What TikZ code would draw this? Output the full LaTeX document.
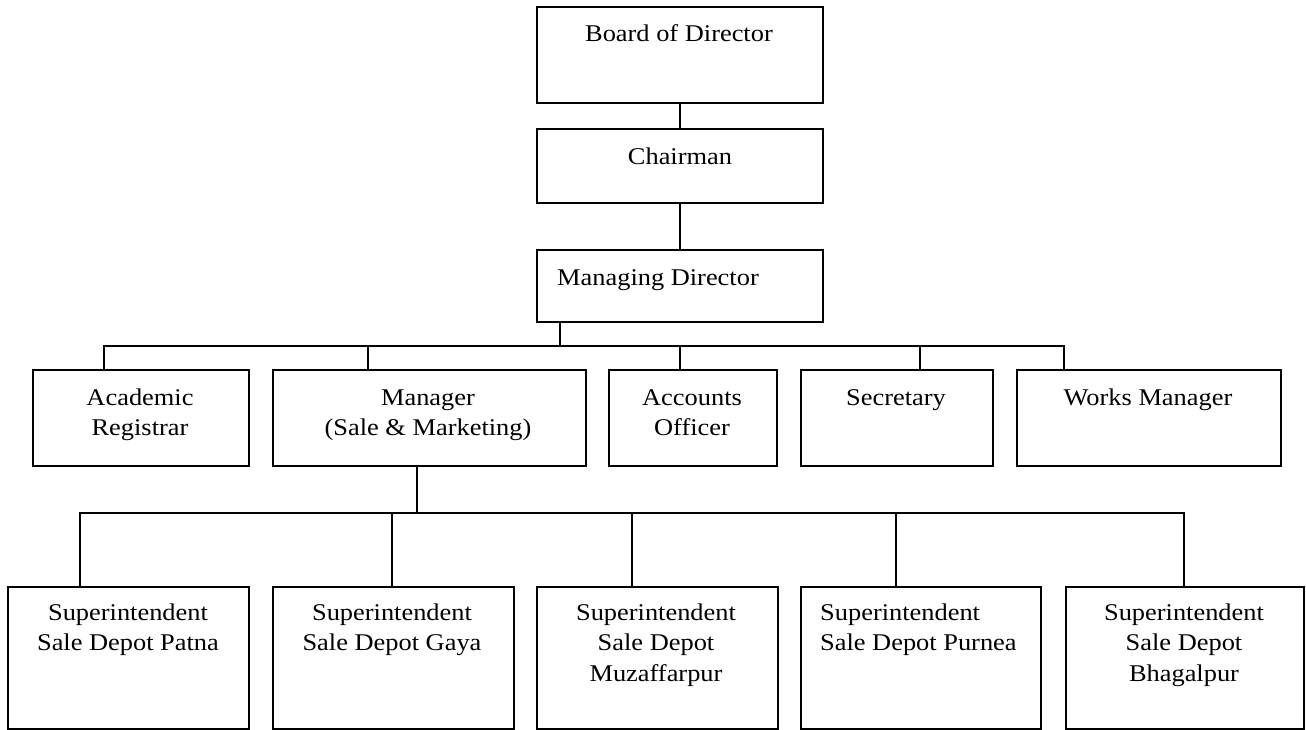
\documentclass[tikz,border=0pt]{standalone}
\usepackage{fontspec}
\setmainfont{Liberation Serif}[FakeStretch=1.1]

\tikzset{
    box/.style={draw, line width=1.6pt, inner sep=0pt, anchor=north west},
    txt/.style={align=center, inner sep=0pt, anchor=base, font=\fontsize{24}{30.5}\selectfont},
    link/.style={line width=1.6pt, line join=miter}
}

\begin{document}
\begin{tikzpicture}[x=1pt, y=-1pt]
    \useasboundingbox (0,0) rectangle (1306,730);
    % top of the chart
    \node[box, minimum width=286pt, minimum height=96pt] (bod) at (536,6) {};
    \node[box, minimum width=286pt, minimum height=74pt] (chm) at (536,128) {};
    \node[box, minimum width=286pt, minimum height=72pt] (mgd) at (536,249) {};
    \node[txt] (bodt) at (679,42) {Board of Director};
    \node[txt] (chmt) at (680,165) {Chairman};
    \node[txt, anchor=base west] (mgdt) at (557,285) {Managing Director};
    % second row (text placed by its last line)
    \node[box, minimum width=216pt, minimum height=96pt] (acr) at (32,369) {};
    \node[box, minimum width=313pt, minimum height=96pt] (mgr) at (272,369) {};
    \node[box, minimum width=168pt, minimum height=96pt] (aco) at (608,369) {};
    \node[box, minimum width=192pt, minimum height=96pt] (sec) at (800,369) {};
    \node[box, minimum width=264pt, minimum height=96pt] (wkm) at (1016,369) {};
    \node[txt] (acrt) at (140,435.5) {Academic\\Registrar};
    \node[txt] (mgrt) at (428,435.5) {Manager\\(Sale \& Marketing)};
    \node[txt] (acot) at (692,435.5) {Accounts\\Officer};
    \node[txt] (sect) at (896,405) {Secretary};
    \node[txt] (wkmt) at (1148,405) {Works Manager};
    % sale depots
    \node[box, minimum width=241pt, minimum height=142pt] (sdp) at (7,586) {};
    \node[box, minimum width=241pt, minimum height=142pt] (sdg) at (272,586) {};
    \node[box, minimum width=241pt, minimum height=142pt] (sdm) at (536,586) {};
    \node[box, minimum width=240pt, minimum height=142pt] (sdu) at (800,586) {};
    \node[box, minimum width=238pt, minimum height=142pt] (sdb) at (1065,586) {};
    \node[txt] (sdpt) at (128,650.5) {Superintendent\\Sale Depot Patna};
    \node[txt] (sdgt) at (392,650.5) {Superintendent\\Sale Depot Gaya};
    \node[txt] (sdmt) at (656,681) {Superintendent\\Sale Depot\\Muzaffarpur};
    \node[txt, align=left, anchor=base west] (sdut) at (820,650.5) {Superintendent\\Sale Depot Purnea};
    \node[txt] (sdbt) at (1184,681) {Superintendent\\Sale Depot\\Bhagalpur};
    % bus points
    \coordinate (busa) at (560,346);
    \coordinate (tap1) at (104,346);
    \coordinate (tap2) at (368,346);
    \coordinate (tap3) at (680,346);
    \coordinate (tap4) at (920,346);
    \coordinate (tap5) at (1064,346);
    \coordinate (busb) at (417,513);
    \coordinate (dep1) at (80,513);
    \coordinate (dep2) at (392,513);
    \coordinate (dep3) at (632,513);
    \coordinate (dep4) at (896,513);
    \coordinate (dep5) at (1184,513);
    % connectors
    \draw[link] (bod) -- (chm);
    \draw[link] (chm) -- (mgd);
    \draw[link] (mgd.south -| busa) -- (busa);
    \draw[link] (tap1 |- acr.north) -- (tap1) -- (tap5) -- (tap5 |- wkm.north);
    \draw[link] (tap2) -- (tap2 |- mgr.north);
    \draw[link] (tap3) -- (tap3 |- aco.north);
    \draw[link] (tap4) -- (tap4 |- sec.north);
    \draw[link] (mgr.south -| busb) -- (busb);
    \draw[link] (dep1 |- sdp.north) -- (dep1) -- (dep5) -- (dep5 |- sdb.north);
    \draw[link] (dep2) -- (dep2 |- sdg.north);
    \draw[link] (dep3) -- (dep3 |- sdm.north);
    \draw[link] (dep4) -- (dep4 |- sdu.north);
\end{tikzpicture}
\end{document}
